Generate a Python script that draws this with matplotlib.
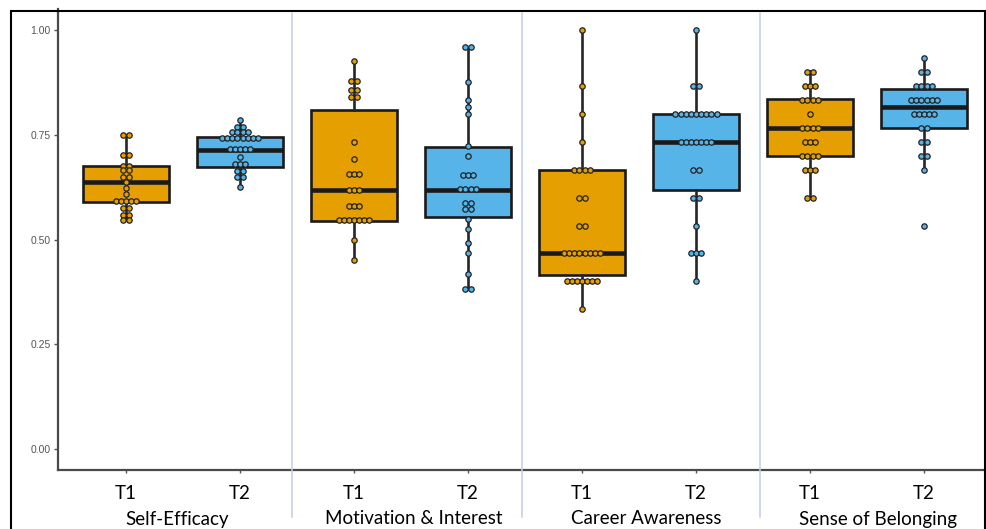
'''
Boxplots with dot stacks: T1 vs T2 for four survey scales
'''

import matplotlib
matplotlib.use('Agg')
import matplotlib.pyplot as plt
from matplotlib.patches import Rectangle
from matplotlib.lines import Line2D
from matplotlib.transforms import blended_transform_factory
import numpy as np

groups = ['Self-Efficacy', 'Motivation & Interest', 'Career Awareness', 'Sense of Belonging']
times = ['T1', 'T2']

# box stats: (whisker low, q1, median, q3, whisker high)
se_t1_box = [0.547, 0.590, 0.638, 0.676, 0.749]
se_t2_box = [0.626, 0.674, 0.714, 0.744, 0.784]
mi_t1_box = [0.451, 0.545, 0.617, 0.809, 0.926]
mi_t2_box = [0.381, 0.554, 0.617, 0.720, 0.958]
ca_t1_box = [0.333, 0.415, 0.467, 0.667, 1.000]
ca_t2_box = [0.400, 0.617, 0.733, 0.800, 1.000]
sb_t1_box = [0.600, 0.700, 0.767, 0.835, 0.902]
sb_t2_box = [0.667, 0.767, 0.817, 0.858, 0.935]

# dot values (bin centres) and how many dots are stacked at each
se_t1_vals = [0.749, 0.702, 0.676, 0.666, 0.650, 0.638, 0.623, 0.608, 0.592, 0.574, 0.558, 0.547]
se_t1_cnt = [2, 2, 2, 2, 2, 1, 1, 1, 5, 2, 2, 2]
se_t2_vals = [0.784, 0.769, 0.757, 0.743, 0.717, 0.698, 0.680, 0.664, 0.650, 0.626]
se_t2_cnt = [1, 2, 4, 8, 5, 1, 3, 2, 2, 1]
mi_t1_vals = [0.926, 0.879, 0.857, 0.840, 0.733, 0.692, 0.656, 0.617, 0.581, 0.547, 0.500, 0.451]
mi_t1_cnt = [1, 2, 2, 2, 1, 1, 3, 3, 3, 7, 1, 1]
mi_t2_vals = [0.960, 0.875, 0.833, 0.817, 0.800, 0.724, 0.700, 0.654, 0.620, 0.586, 0.572,
              0.550, 0.525, 0.492, 0.467, 0.418, 0.381]
mi_t2_cnt = [2, 1, 1, 1, 1, 1, 1, 3, 4, 2, 2, 1, 1, 1, 1, 1, 2]
ca_t1_vals = [1.000, 0.867, 0.800, 0.733, 0.667, 0.600, 0.533, 0.467, 0.400, 0.333]
ca_t1_cnt = [1, 1, 1, 1, 4, 2, 2, 8, 7, 1]
ca_t2_vals = [1.000, 0.867, 0.800, 0.733, 0.667, 0.600, 0.533, 0.467, 0.400]
ca_t2_cnt = [1, 2, 9, 7, 2, 2, 1, 3, 1]
sb_t1_vals = [0.900, 0.867, 0.833, 0.800, 0.767, 0.733, 0.700, 0.667, 0.600]
sb_t1_cnt = [2, 3, 4, 1, 4, 3, 4, 3, 2]
sb_t2_vals = [0.933, 0.900, 0.867, 0.833, 0.800, 0.767, 0.733, 0.700, 0.667, 0.533]
sb_t2_cnt = [1, 2, 4, 6, 5, 2, 2, 2, 1, 1]

# hand drawn separators and group label centres (in category units)
sep_pos = [1.46, 3.47, 5.56]
label_pos = [0.45, 2.52, 4.56, 6.6]

orange = '#E69F00'
blue = '#56B4E9'

boxes = [se_t1_box, se_t2_box, mi_t1_box, mi_t2_box, ca_t1_box, ca_t2_box, sb_t1_box, sb_t2_box]
dots = [(se_t1_vals, se_t1_cnt), (se_t2_vals, se_t2_cnt), (mi_t1_vals, mi_t1_cnt),
        (mi_t2_vals, mi_t2_cnt), (ca_t1_vals, ca_t1_cnt), (ca_t2_vals, ca_t2_cnt),
        (sb_t1_vals, sb_t1_cnt), (sb_t2_vals, sb_t2_cnt)]

W, H = 987, 529
fig = plt.figure(figsize=(W / 100, H / 100), dpi=100)
ax = fig.add_axes([57.6 / W, 1 - 470 / H, 8.2 * 114 / W, 461 / H])

stats = []
for b in boxes:
    stats.append({'whislo': b[0], 'q1': b[1], 'med': b[2], 'q3': b[3], 'whishi': b[4], 'fliers': []})

positions = np.arange(len(boxes))
art = ax.bxp(stats, positions=positions, widths=0.75, patch_artist=True,
             showfliers=False, showcaps=False,
             boxprops=dict(edgecolor='#1a1a1a', linewidth=1.9),
             medianprops=dict(color='#1a1a1a', linewidth=3.3),
             whiskerprops=dict(color='#262626', linewidth=1.9))
for i, patch in enumerate(art['boxes']):
    patch.set_facecolor(orange if i % 2 == 0 else blue)

step = 0.045
for i, (vals, cnt) in enumerate(dots):
    xs, ys = [], []
    for v, c in zip(vals, cnt):
        for k in range(c):
            xs.append(positions[i] + (k - (c - 1) / 2) * step)
            ys.append(v)
    ax.scatter(xs, ys, s=15, facecolor=orange if i % 2 == 0 else blue,
               edgecolor='#222222', linewidth=0.9, zorder=3)

ax.set_xlim(-0.6, 7.6)
ax.set_ylim(-0.05, 1.05)
ax.set_yticks([0, 0.25, 0.5, 0.75, 1.0])
ax.set_yticklabels(['0.00', '0.25', '0.50', '0.75', '1.00'], color='#555555',
                   fontsize=7.5, family='Liberation Sans')
ax.set_xticks(positions)
ax.set_xticklabels(times * 4, fontsize=13.5, family=['Lato', 'DejaVu Sans'])
ax.tick_params(axis='y', length=3, width=1, color='#555555', pad=2)
ax.tick_params(axis='x', length=2.5, width=1, color='#555555', pad=8)
for s in ['top', 'right']:
    ax.spines[s].set_visible(False)
for s in ['left', 'bottom']:
    ax.spines[s].set_color('#4a4a4a')
    ax.spines[s].set_linewidth(1.6)

tr = blended_transform_factory(ax.transData, fig.transFigure)
for x in sep_pos:
    fig.add_artist(Line2D([x, x], [1 - 13 / H, 1 - 517 / H], transform=tr,
                          color='#c3cde3', linewidth=1.1))
for x, g in zip(label_pos, groups):
    fig.text(x, 1 - 519 / H, g, transform=tr, ha='center', va='center',
             fontsize=13.5, family=['Lato', 'DejaVu Sans'])

# outer frame of the slide image
fig.add_artist(Rectangle((11 / W, -0.05), (985 - 11) / W, 1.05 - 11 / H,
                         transform=fig.transFigure, fill=False,
                         edgecolor='black', linewidth=1.5))

fig.savefig('out.png', dpi=100)
